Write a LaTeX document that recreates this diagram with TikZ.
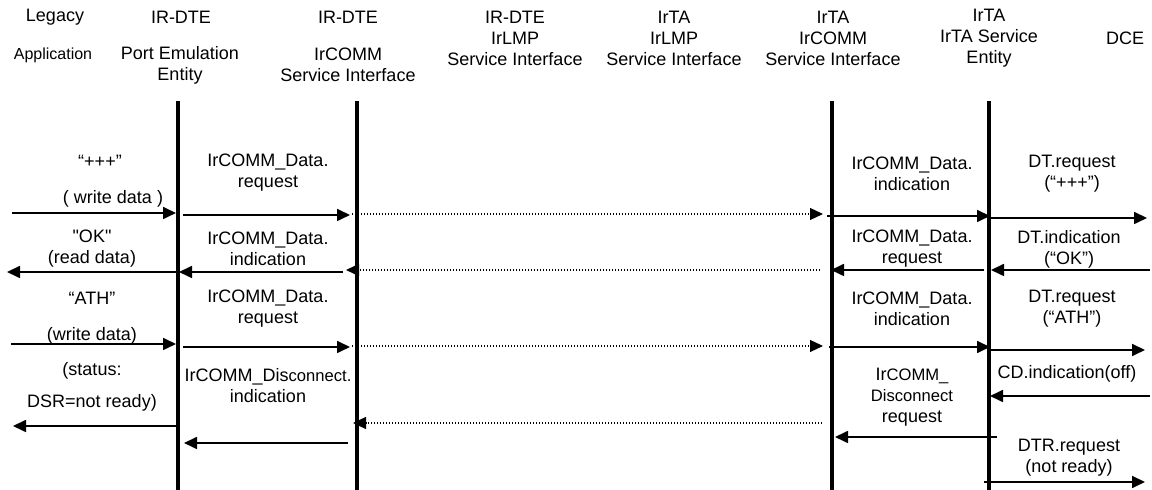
\documentclass[tikz,border=0pt]{standalone}
\usepackage{fontspec}
\newfontfamily\arial{Liberation Sans}
\usetikzlibrary{arrows.meta}
\newcommand{\smallf}{\fontsize{8.3}{10.5}\selectfont}
\begin{document}
\begin{tikzpicture}[x=0.5pt,y=-0.5pt,
  lifeline/.style={line width=1.8pt},
  msg/.style={line width=0.85pt,-{Triangle[length=6.5pt,width=6pt]}},
  rel/.style={line width=0.6pt,dash pattern=on 0.6pt off 0.9pt,-{Triangle[length=6.5pt,width=6pt]}},
  hdr/.style={font=\arial\fontsize{9}{10.5}\selectfont,align=center,inner sep=0pt},
  lbl/.style={font=\arial\fontsize{9}{10.5}\selectfont,align=center,inner sep=0pt},
]
\useasboundingbox (0,0) rectangle (1152,490);
\fill[white] (0,0) rectangle (1152,490);

% headers
\node[hdr] (hLeg) at (55,17) {Legacy};
\node[hdr,font=\arial\fontsize{8}{10}\selectfont] (hApp) at (53,55) {Application};
\node[hdr] (hPEa) at (181,17) {IR-DTE};
\node[hdr] (hPEb) at (180,65) {Port Emulation\\Entity};
\node[hdr] (hCSa) at (348,17) {IR-DTE};
\node[hdr] (hCSb) at (348,65) {IrCOMM\\Service Interface};
\node[hdr] (hLMPa) at (515,38) {IR-DTE\\IrLMP\\Service Interface};
\node[hdr] (hLMPb) at (674,38) {IrTA\\IrLMP\\Service Interface};
\node[hdr] (hCSc) at (833,38) {IrTA\\IrCOMM\\Service Interface};
\node[hdr] (hTA) at (989,38) {IrTA\\IrTA Service\\Entity};
\node[hdr] (hDCE) at (1125,38) {DCE};

% lifelines
\coordinate (L1t) at (178,101); \coordinate (L1b) at (178,492);
\coordinate (L2t) at (357,101); \coordinate (L2b) at (357,492);
\coordinate (L3t) at (832,101); \coordinate (L3b) at (832,492);
\coordinate (L4t) at (989,101); \coordinate (L4b) at (989,492);
\draw[lifeline] (L1t) -- (L1b);
\draw[lifeline] (L2t) -- (L2b);
\draw[lifeline] (L3t) -- (L3b);
\draw[lifeline] (L4t) -- (L4b);

% row 1
\node[lbl] (t1a) at (100,161) {“+++”};
\node[lbl] (t1b) at (113,199) {( write data )};
\node[lbl] (t1c) at (268,173) {IrCOMM\_Data.\\request};
\node[lbl] (t1d) at (912,174) {IrCOMM\_Data.\\indication};
\node[lbl] (t1e) at (1072,174) {DT.request\\(“+++”)};
\coordinate (a1s) at (12,213);  \coordinate (a1e) at (176,213);
\coordinate (a2s) at (183,215); \coordinate (a2e) at (350,215);
\coordinate (d1s) at (352,214); \coordinate (d1e) at (823,214);
\coordinate (a3s) at (827,216); \coordinate (a3e) at (990,216);
\coordinate (a4s) at (990,218); \coordinate (a4e) at (1147,218);
\draw[msg] (a1s) -- (a1e);
\draw[msg] (a2s) -- (a2e);
\draw[rel] (d1s) -- (d1e);
\draw[msg] (a3s) -- (a3e);
\draw[msg] (a4s) -- (a4e);

% row 2
\node[lbl] (t2a) at (92,249) {"OK"\\(read data)};
\node[lbl] (t2b) at (268,249) {IrCOMM\_Data.\\indication};
\node[lbl] (t2c) at (912,249) {IrCOMM\_Data.\\request};
\node[lbl] (t2d) at (1069,249) {DT.indication\\(“OK”)};
\coordinate (b1s) at (178,272);  \coordinate (b1e) at (7,272);
\coordinate (b2s) at (343,272);  \coordinate (b2e) at (179,272);
\coordinate (d2s) at (820,270);  \coordinate (d2e) at (346,270);
\coordinate (b3s) at (984,270);  \coordinate (b3e) at (831,270);
\coordinate (b4s) at (1150,270); \coordinate (b4e) at (991,270);
\draw[msg] (b1s) -- (b1e);
\draw[msg] (b2s) -- (b2e);
\draw[rel] (d2s) -- (d2e);
\draw[msg] (b3s) -- (b3e);
\draw[msg] (b4s) -- (b4e);

% row 3
\node[lbl] (t3a) at (92,298) {“ATH”};
\node[lbl] (t3b) at (92,336) {(write data)};
\node[lbl] (t3c) at (268,309) {IrCOMM\_Data.\\request};
\node[lbl] (t3d) at (912,309) {IrCOMM\_Data.\\indication};
\node[lbl] (t3e) at (1072,309) {DT.request\\(“ATH”)};
\coordinate (c1s) at (11,344);  \coordinate (c1e) at (176,344);
\coordinate (c2s) at (183,347); \coordinate (c2e) at (350,347);
\coordinate (d3s) at (352,346); \coordinate (d3e) at (823,346);
\coordinate (c3s) at (829,347); \coordinate (c3e) at (990,347);
\coordinate (c4s) at (990,350); \coordinate (c4e) at (1145,350);
\draw[msg] (c1s) -- (c1e);
\draw[msg] (c2s) -- (c2e);
\draw[rel] (d3s) -- (d3e);
\draw[msg] (c3s) -- (c3e);
\draw[msg] (c4s) -- (c4e);

% row 4
\node[lbl] (t4a) at (92,371) {(status:};
\node[lbl] (t4b) at (92,403) {DSR=not ready)};
\node[lbl] (t4c) at (268,386) {IrCOMM\_Dis{\smallf connect.}\\indication};
\node[lbl] (t4d) at (912,397) {Ir{\smallf COMM\_}\\{\smallf Disconnect}\\request};
\node[lbl] (t4e) at (1067,374) {CD.indication(off)};
\node[lbl] (t4f) at (1069,458) {DTR.request\\(not ready)};
\coordinate (e1s) at (178,426);  \coordinate (e1e) at (13,426);
\coordinate (e2s) at (348,443);  \coordinate (e2e) at (184,443);
\coordinate (d4s) at (822,423);  \coordinate (d4e) at (353,423);
\coordinate (e3s) at (997,437);  \coordinate (e3e) at (835,437);
\coordinate (e4s) at (1150,396); \coordinate (e4e) at (990,396);
\coordinate (e5s) at (984,482);  \coordinate (e5e) at (1145,482);
\draw[msg] (e1s) -- (e1e);
\draw[msg] (e2s) -- (e2e);
\draw[rel] (d4s) -- (d4e);
\draw[msg] (e3s) -- (e3e);
\draw[msg] (e4s) -- (e4e);
\draw[msg] (e5s) -- (e5e);
\end{tikzpicture}
\end{document}
